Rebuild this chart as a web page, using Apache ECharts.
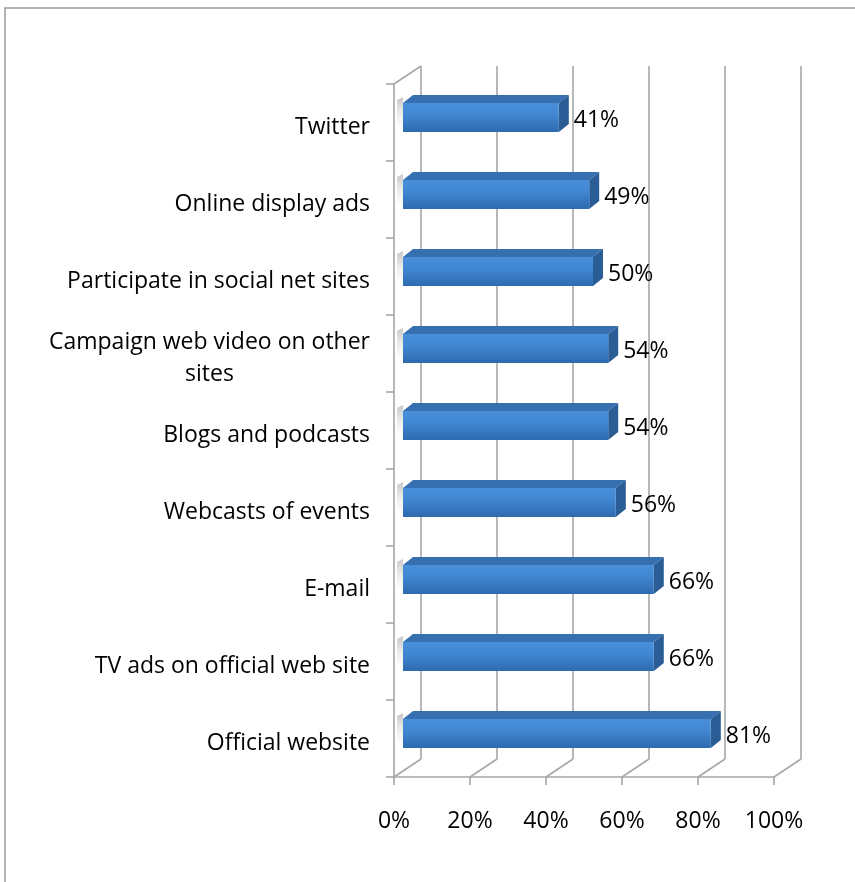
<!DOCTYPE html>
<html>
<head>
<meta charset="utf-8">
<script src="https://cdn.jsdelivr.net/npm/echarts@6/dist/echarts.min.js"></script>
<style>
  html, body { margin: 0; padding: 0; background: #ffffff; }
  #chart { width: 855px; height: 882px; }
</style>
</head>
<body>
<div id="chart"></div>
<script>
// Categories from top to bottom
const categories = [
  'Twitter',
  'Online display ads',
  'Participate in social net sites',
  'Campaign web video on other\nsites',
  'Blogs and podcasts',
  'Webcasts of events',
  'E-mail',
  'TV ads on official web site',
  'Official website'
];
// Share of respondents, percent
const shares = [41, 49, 50, 54, 54, 56, 66, 66, 81];
// Value axis ticks (percent)
const axisTicks = [0, 20, 40, 60, 80, 100];

const FONT = '"Open Sans", "Liberation Sans", sans-serif';
const FONT_SIZE = 23;
const GRID_COLOR = '#a6a6a6';
// depth offsets of the 3D box: back wall, bar placement, bar thickness
const WALL_DX = 27, WALL_DY = -18;
const BAR_OX = 9, BAR_OY = -5;
const BAR_DX = 10, BAR_DY = -8;

const chart = echarts.init(document.getElementById('chart'));

function renderWall(params, api) {
  const v = api.value(0);
  const cs = params.coordSys;
  const x = api.coord([v, 0])[0];
  const top = cs.y, bottom = cs.y + cs.height;
  const style = { stroke: GRID_COLOR, lineWidth: 1.6 };
  const children = [
    { type: 'line', shape: { x1: x + WALL_DX, y1: top + WALL_DY, x2: x + WALL_DX, y2: bottom + WALL_DY }, style },
    { type: 'line', shape: { x1: x, y1: bottom, x2: x + WALL_DX, y2: bottom + WALL_DY }, style }
  ];
  if (v === 0) {
    children.push({ type: 'line', shape: { x1: x, y1: top, x2: x + WALL_DX, y2: top + WALL_DY }, style });
  }
  return { type: 'group', children };
}

function renderBar(params, api) {
  const v = api.value(0);
  const c = api.value(1);
  const p0 = api.coord([0, c]);
  const p1 = api.coord([v, c]);
  const band = api.size([0, 1])[1];
  const h = band * 0.377;
  const x0 = p0[0] + BAR_OX, x1 = p1[0] + BAR_OX;
  const cy = p0[1] + BAR_OY;
  const yt = cy - h / 2, yb = cy + h / 2;
  return {
    type: 'group',
    children: [
      { // soft shadow cast on the side wall
        type: 'polygon',
        shape: { points: [[x0 - 6, yt - 3], [x0, yt - 6], [x0, yb - 4], [x0 - 6, yb - 6]] },
        style: {
          fill: new echarts.graphic.LinearGradient(0, 0, 0, 1, [
            { offset: 0, color: 'rgba(0,0,0,0.22)' },
            { offset: 0.5, color: 'rgba(0,0,0,0.08)' },
            { offset: 1, color: 'rgba(0,0,0,0)' }
          ])
        }
      },
      { // top face
        type: 'polygon',
        shape: { points: [[x0, yt], [x1, yt], [x1 + BAR_DX, yt + BAR_DY], [x0 + BAR_DX, yt + BAR_DY]] },
        style: { fill: '#3670b0' }
      },
      { // end face
        type: 'polygon',
        shape: { points: [[x1, yt], [x1 + BAR_DX, yt + BAR_DY], [x1 + BAR_DX, yb + BAR_DY], [x1, yb]] },
        style: { fill: '#2a5d95' }
      },
      { // front face
        type: 'rect',
        shape: { x: x0, y: yt, width: x1 - x0, height: h },
        style: {
          fill: new echarts.graphic.LinearGradient(0, 0, 0, 1, [
            { offset: 0, color: '#4a8fd9' },
            { offset: 0.45, color: '#3f85d0' },
            { offset: 1, color: '#2e6aae' }
          ])
        }
      },
      { // value label
        type: 'text',
        style: {
          text: v + '%',
          x: x1 + BAR_DX + 5,
          y: cy + 2.5,
          verticalAlign: 'middle',
          align: 'left',
          font: FONT_SIZE + 'px ' + FONT,
          fill: '#000'
        }
      }
    ]
  };
}

chart.setOption({
  backgroundColor: '#ffffff',
  animation: false,
  graphic: [{
    type: 'rect',
    shape: { x: 5, y: 8, width: 1000, height: 1000 },
    style: { fill: 'none', stroke: '#9a9a9a', lineWidth: 1.5 },
    silent: true
  }],
  grid: { left: 394, right: 81, top: 84, bottom: 105 },
  xAxis: {
    type: 'value',
    min: 0,
    max: 100,
    interval: 20,
    axisLine: { show: true, lineStyle: { color: GRID_COLOR, width: 1.6 } },
    axisTick: { show: true, length: 8, lineStyle: { color: GRID_COLOR, width: 1.6 } },
    splitLine: { show: false },
    axisLabel: {
      formatter: '{value}%',
      fontFamily: FONT,
      fontSize: FONT_SIZE,
      color: '#000',
      margin: 33
    }
  },
  yAxis: {
    type: 'category',
    inverse: true,
    data: categories,
    axisLine: { show: true, lineStyle: { color: GRID_COLOR, width: 1.6 } },
    axisTick: { show: true, length: 8, lineStyle: { color: GRID_COLOR, width: 1.6 } },
    splitLine: { show: false },
    axisLabel: {
      fontFamily: FONT,
      fontSize: FONT_SIZE,
      color: '#000',
      margin: 24,
      padding: [9, 0, 0, 0],
      formatter: function (name) {
        if (name.indexOf('\n') < 0) return name;
        return name.split('\n').map(function (s) { return '{c|' + s + '}'; }).join('\n');
      },
      rich: {
        c: { align: 'center', fontFamily: FONT, fontSize: FONT_SIZE, color: '#000', lineHeight: 32 }
      }
    }
  },
  series: [
    {
      type: 'custom',
      name: 'walls',
      z: 1,
      silent: true,
      encode: { x: 0 },
      data: axisTicks.map(function (v) { return [v]; }),
      renderItem: renderWall
    },
    {
      type: 'custom',
      name: 'share',
      z: 2,
      encode: { x: 0, y: 1 },
      data: shares.map(function (v, i) { return [v, i]; }),
      renderItem: renderBar
    }
  ]
});
</script>
</body>
</html>
